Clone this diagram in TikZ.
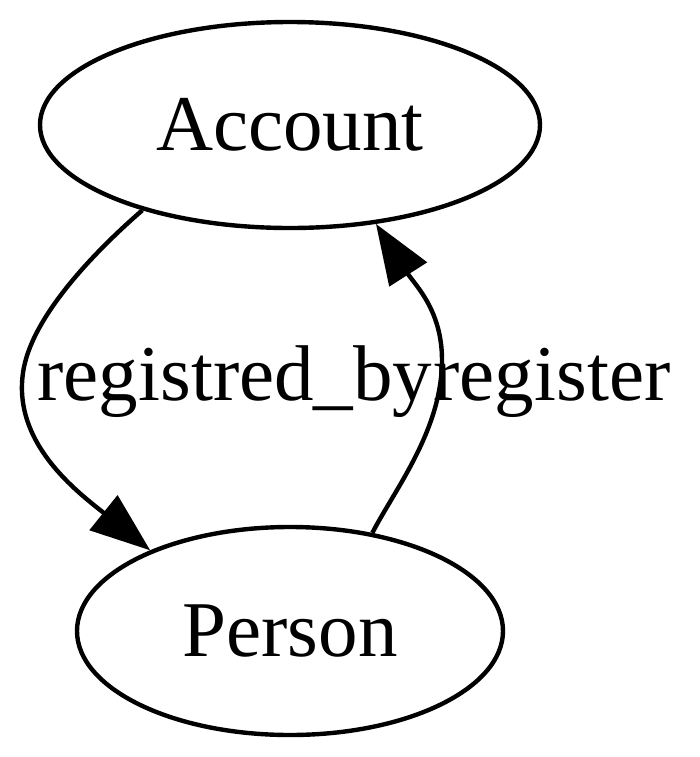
\documentclass[tikz,border=0pt]{standalone}
\usepackage{fontspec}
\setmainfont{Liberation Serif}
\usetikzlibrary{shapes.geometric}
\usetikzlibrary{arrows.meta}

\begin{document}
\begin{tikzpicture}[x=0.5pt,y=-0.5pt,line width=2.2pt,
    ent/.style={draw,ellipse,inner sep=0pt,font=\fontsize{39.5}{47}\selectfont},
    lbl/.style={anchor=base,inner sep=0pt,font=\fontsize{39.5}{47}\selectfont},
    >={Triangle[length=30pt,width=22pt]}]
            \useasboundingbox (0,0) rectangle (700,757);
            \node[ent,minimum width=250pt,minimum height=103pt] (A1) at (290,125) {Account};
            \node[ent,minimum width=213pt,minimum height=104pt] (P1) at (290,631) {Person};
            \draw[->] (A1.210) .. controls (108,240) and (36,308) .. (24,367) .. controls (9,442) and (79,493) .. (P1.150);
            \draw[->] (P1.50) .. controls (395,489) and (442,430) .. (442,360) .. controls (442,310) and (415,285) .. (A1.311);
            \node[lbl] (L1) at (235,400) {registred\_by};
            \node[lbl] (L2) at (552,400) {register};
        \end{tikzpicture}
\end{document}
